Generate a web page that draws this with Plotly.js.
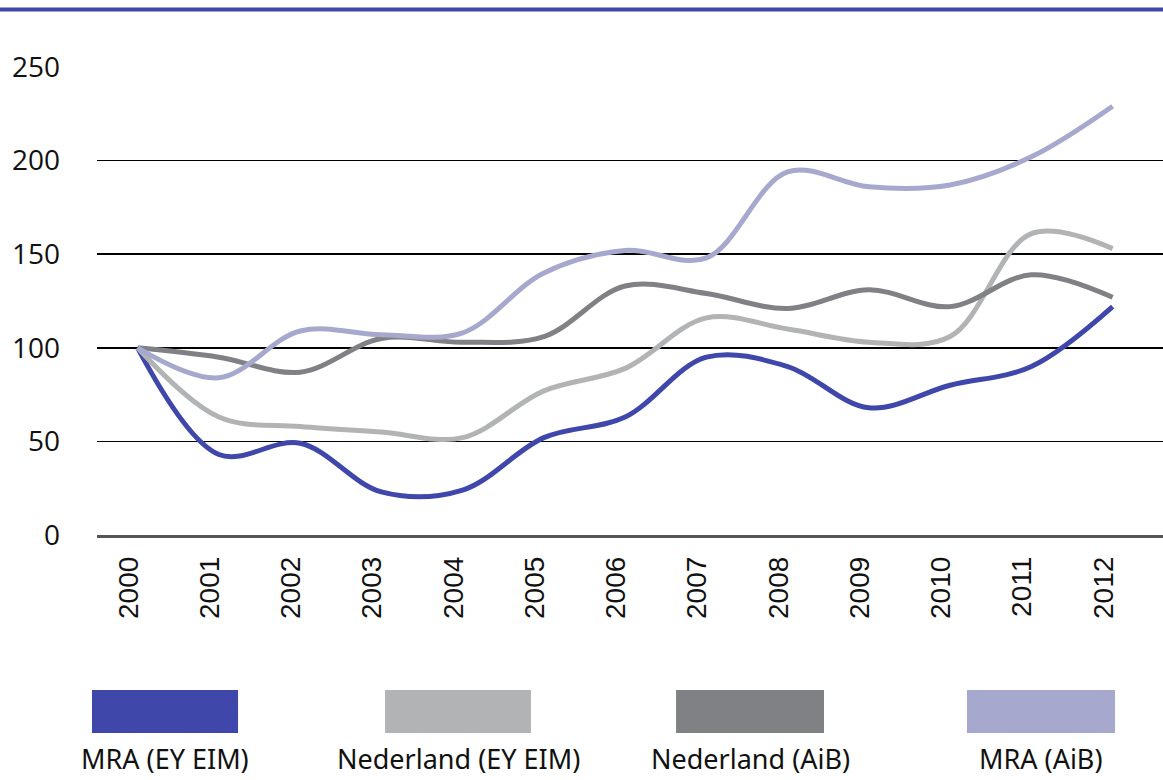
<!DOCTYPE html>
<html>
<head>
<meta charset="utf-8">
<script src="https://cdn.plot.ly/plotly-3.0.1.min.js"></script>
<style>html,body{margin:0;padding:0;background:#fff;}#chart{width:1163px;height:780px;}</style>
</head>
<body>
<div id="chart"></div>
<script>
const years = ['2000','2001','2002','2003','2004','2005','2006','2007','2008','2009','2010','2011','2012'];
const seriesNames = ['MRA (EY EIM)', 'Nederland (EY EIM)', 'Nederland (AiB)', 'MRA (AiB)'];
const mraEY   = [100, 43, 49, 23, 24, 52, 63, 95, 90, 68, 80, 90, 122];
const nlEY    = [100, 63, 58, 55, 52, 77, 89, 116, 110, 103, 106, 161, 153];
const nlAiB   = [100, 95, 87, 105, 103, 106, 133, 129, 121, 131, 122, 139, 127];
const mraAiB  = [100, 84, 109, 107, 108, 140, 152, 148, 194, 186, 187, 202, 229];
const colors = ['#3f47ab', '#b1b3b5', '#808184', '#a7a8cd'];
const yTicks = [0, 50, 100, 150, 200, 250];

const allSeries = [mraEY, nlEY, nlAiB, mraAiB];
const traces = allSeries.map((vals, i) => ({
  type: 'scatter', mode: 'lines', x: years, y: vals, name: seriesNames[i],
  line: {color: colors[i], width: 5, shape: 'spline', smoothing: 1},
  hoverinfo: 'x+y+name'
}));

// legend swatches + labels (paper coordinates)
const swatch = [[-0.0047, 0.1323], [0.2702, 0.4071], [0.5432, 0.6820], [0.8161, 0.9550]];
const shapes = [
  {type: 'line', xref: 'paper', yref: 'paper', x0: -0.091, x1: 1, y0: 1.1229, y1: 1.1229,
   line: {color: '#3f47ab', width: 4}}
];
const annotations = [];
swatch.forEach((s, i) => {
  shapes.push({type: 'rect', xref: 'paper', yref: 'paper', x0: s[0], x1: s[1], y0: -0.3312, y1: -0.4231,
    fillcolor: colors[i], line: {width: 0}});
  annotations.push({xref: 'paper', yref: 'paper', x: (s[0] + s[1]) / 2, y: -0.478,
    xanchor: 'center', yanchor: 'middle', showarrow: false, text: seriesNames[i],
    font: {family: '"Noto Sans", Lato, sans-serif', size: 27, color: '#111'}});
});

const layout = {
  width: 1163, height: 780,
  margin: {l: 97, r: 0, t: 67, b: 245},
  paper_bgcolor: '#fff', plot_bgcolor: '#fff',
  showlegend: false,
  xaxis: {
    type: 'category', range: [-0.5, 12.62], tickangle: -90,
    showgrid: false, zeroline: false,
    showline: true, linecolor: '#555', linewidth: 2.5,
    ticks: '', ticklabelstandoff: 8, ticklabelshift: -9,
    tickfont: {family: '"Liberation Sans", Arial, sans-serif', size: 28, color: '#111'}
  },
  yaxis: {
    range: [0, 250], tickvals: yTicks, ticktext: yTicks.map(String),
    showgrid: true, gridcolor: '#000', gridwidth: 1.6,
    zeroline: false, showline: false, ticks: '', ticklabelstandoff: 36,
    tickfont: {family: '"Open Sans", sans-serif', size: 28, color: '#111'}
  },
  shapes: shapes,
  annotations: annotations
};

Plotly.newPlot('chart', traces, layout, {displayModeBar: false, staticPlot: true});
</script>
</body>
</html>
